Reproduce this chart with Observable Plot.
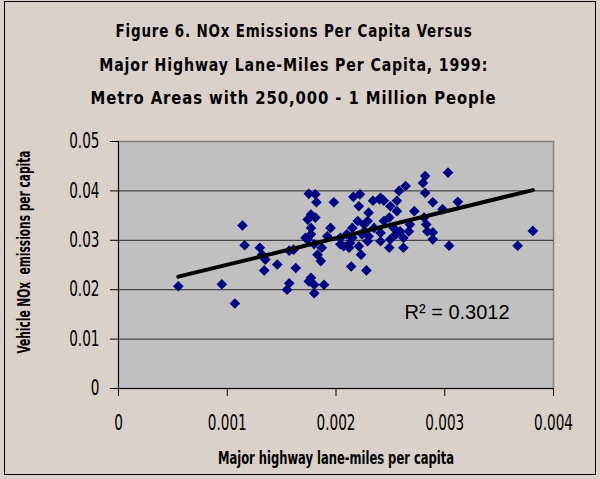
<!DOCTYPE html>
<html>
<head>
<meta charset="utf-8">
<script src="https://cdn.jsdelivr.net/npm/d3@7"></script>
<script src="https://cdn.jsdelivr.net/npm/@observablehq/plot@0.6"></script>
<style>
  html, body { margin: 0; padding: 0; background: #d9d1ca; }
  #wrap { position: relative; width: 600px; height: 479px; background: #d9d1ca; overflow: hidden; }
  #border { position: absolute; left: 4px; top: 1px; width: 592px; height: 474px; border: 1px solid #000; box-sizing: border-box; pointer-events: none; }
  #title { position: absolute; left: 0; top: 14px; width: 588px; text-align: center;
    font-family: "DejaVu Sans Condensed", "DejaVu Sans", sans-serif; font-weight: bold;
    font-size: 18px; line-height: 33.5px; letter-spacing: 1px; color: #000; }
  #title div { white-space: nowrap; }
  #title span { display: inline-block; transform-origin: center; }
  #chart { position: absolute; left: 0; top: 120px; }
</style>
</head>
<body>
<div id="wrap">
  <div id="title"></div>
  <div id="chart"></div>
  <div id="border"></div>
</div>
<script>
const titleLines = [
  "Figure 6. NOx Emissions Per Capita Versus",
  "Major Highway Lane-Miles Per Capita, 1999:",
  "Metro Areas with 250,000 - 1 Million People"
];
const titleWidths = [357, 389, 406];
const xLabel = "Major highway lane-miles per capita";
const yLabel = "Vehicle NOx  emissions per capita";
const r2Label = "R\u00B2 = 0.3012";
const xTicks = [0, 0.001, 0.002, 0.003, 0.004];
const yTicks = [0, 0.01, 0.02, 0.03, 0.04, 0.05];

// Major highway lane-miles per capita
const laneMiles = [
  0.00055, 0.00095, 0.00107, 0.00114, 0.00116, 0.00130, 0.00132, 0.00135, 0.00134, 0.00146,
  0.00157, 0.00155, 0.00157, 0.00303, 0.00282, 0.00280, 0.00282, 0.00289, 0.00312, 0.00298,
  0.00381, 0.00367, 0.00304, 0.00289, 0.00289, 0.00283, 0.00281, 0.00272, 0.00268, 0.00264,
  0.00258, 0.00256, 0.00256, 0.00249, 0.00244, 0.00234, 0.00230, 0.00229, 0.00222, 0.00216,
  0.00221, 0.00220, 0.00215, 0.00210, 0.00207, 0.00215, 0.00224, 0.00230, 0.00223, 0.00214,
  0.00228, 0.00241, 0.00249, 0.00255, 0.00262, 0.00262, 0.00253, 0.00198, 0.00195, 0.00192,
  0.00175, 0.00182, 0.00181, 0.00177, 0.00181, 0.00174, 0.00177, 0.00174, 0.00180, 0.00161,
  0.00187, 0.00183, 0.00186, 0.00163, 0.00177, 0.00180, 0.00189, 0.00180, 0.00204, 0.00213,
  0.00226, 0.00235, 0.00241, 0.00250, 0.00259, 0.00244, 0.00250, 0.00240, 0.00221, 0.00229,
  0.00175, 0.00177, 0.00204, 0.00212, 0.00241, 0.00284, 0.00226, 0.00267, 0.00172
];
// Vehicle NOx emissions per capita
const noxPerCapita = [
  0.0207, 0.0211, 0.0172, 0.0330, 0.0290, 0.0285, 0.0271, 0.0261, 0.0239, 0.0251,
  0.0279, 0.0200, 0.0213, 0.0437, 0.0430, 0.0416, 0.0396, 0.0377, 0.0378, 0.0363,
  0.0319, 0.0289, 0.0289, 0.0302, 0.0316, 0.0332, 0.0346, 0.0359, 0.0332, 0.0410,
  0.0400, 0.0380, 0.0359, 0.0346, 0.0380, 0.0380, 0.0356, 0.0339, 0.0393, 0.0388,
  0.0369, 0.0339, 0.0325, 0.0312, 0.0288, 0.0305, 0.0312, 0.0308, 0.0271, 0.0247,
  0.0239, 0.0298, 0.0285, 0.0312, 0.0285, 0.0305, 0.0325, 0.0377, 0.0325, 0.0308,
  0.0394, 0.0377, 0.0393, 0.0352, 0.0346, 0.0342, 0.0325, 0.0302, 0.0292, 0.0281,
  0.0285, 0.0271, 0.0258, 0.0244, 0.0224, 0.0210, 0.0210, 0.0193, 0.0305, 0.0295,
  0.0318, 0.0325, 0.0315, 0.0302, 0.0318, 0.0339, 0.0369, 0.0383, 0.0288, 0.0298,
  0.0217, 0.0312, 0.0292, 0.0285, 0.0386, 0.0318, 0.0332, 0.0318, 0.0305
];

const data = laneMiles.map((x, i) => ({x, y: noxPerCapita[i]}));

const titleEl = document.getElementById("title");
titleEl.innerHTML = titleLines.map(t => `<div><span>${t}</span></div>`).join("");
titleEl.querySelectorAll("span").forEach((s, i) => {
  const w = s.getBoundingClientRect().width;
  s.style.transform = `scaleX(${titleWidths[i] / w})`;
});

const condFont = '"DejaVu Sans Condensed", "DejaVu Sans", sans-serif';
const fmt = d => d === 0 ? "0" : String(d);

const chart = Plot.plot({
  width: 600,
  height: 359,
  marginTop: 21,
  marginLeft: 118,
  marginRight: 47,
  marginBottom: 91,
  style: {background: "transparent", overflow: "visible"},
  x: {domain: [0, 0.004]},
  y: {domain: [0, 0.05]},
  marks: [
    Plot.frame({fill: "#c0c0c0", stroke: "#808080", strokeWidth: 1.5}),
    Plot.gridY(yTicks.filter(d => d > 0 && d < 0.05), {stroke: "#000", strokeOpacity: 0.8, strokeWidth: 1}),
    Plot.ruleX([0], {stroke: "#000", strokeWidth: 1}),
    Plot.ruleY([0], {stroke: "#000", strokeWidth: 1}),
    Plot.axisX(xTicks, {tickFormat: fmt, tickSize: 8, tickPadding: 19, fontSize: 21, fontFamily: condFont, letterSpacing: 1.5, label: null, stroke: "#000"}),
    Plot.axisY(yTicks, {tickFormat: fmt, tickSize: 8, tickPadding: 11, fontSize: 21, fontFamily: condFont, letterSpacing: 1.5, label: null, stroke: "#000"}),
    Plot.dot(data, {x: "x", y: "y", symbol: "diamond2", r: 4.8, fill: "#000080", stroke: "none"}),
    Plot.linearRegressionY(data, {x: "x", y: "y", ci: 0, stroke: "#000", strokeWidth: 4, strokeLinecap: "round"}),
    Plot.text([r2Label], {x: 0.00263, y: 0.0140, text: d => d, textAnchor: "start", lineAnchor: "bottom", fontSize: 20, fontFamily: '"Liberation Sans", Arial, sans-serif', fill: "#000"}),
    Plot.text([xLabel], {frameAnchor: "bottom", dy: 70, text: d => d, textAnchor: "middle", lineAnchor: "middle", fontSize: 18, fontWeight: "bold", fontFamily: condFont, fill: "#000"}),
    Plot.text([yLabel], {frameAnchor: "left", dx: -94, dy: -13, rotate: -90, text: d => d, textAnchor: "middle", lineAnchor: "middle", fontSize: 18, fontWeight: "bold", fontFamily: condFont, fill: "#000"})
  ]
});
document.getElementById("chart").appendChild(chart);

// condense text to mimic the narrow fonts of the original
function squeeze(sel, f) {
  chart.querySelectorAll(sel).forEach(t => {
    const L = t.getComputedTextLength();
    t.setAttribute("textLength", L * f);
    t.setAttribute("lengthAdjust", "spacingAndGlyphs");
  });
}
squeeze('g[aria-label="x-axis tick label"] text, g[aria-label="y-axis tick label"] text', 0.72);
chart.querySelectorAll("text").forEach(t => {
  const s = t.textContent;
  let w = null;
  if (s === xLabel) w = 236;
  else if (s === yLabel) w = 203;
  if (w !== null) {
    t.setAttribute("textLength", w);
    t.setAttribute("lengthAdjust", "spacingAndGlyphs");
  }
});
</script>
</body>
</html>
